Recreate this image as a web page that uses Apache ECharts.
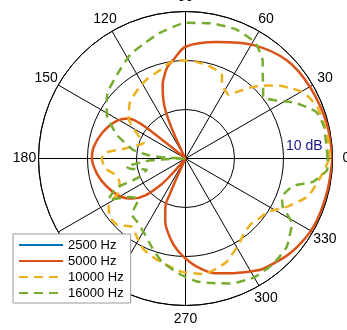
<!DOCTYPE html>
<html>
<head>
<meta charset="utf-8">
<script src="https://cdn.jsdelivr.net/npm/echarts@6/dist/echarts.min.js"></script>
<style>
  html, body { margin: 0; padding: 0; background: #ffffff; }
  #chart { width: 347px; height: 330px; }
</style>
</head>
<body>
<div id="chart"></div>
<script>
// Polar directivity plot: level in dB against angle in degrees.
const FONT = '"Liberation Sans", Arial, Helvetica, sans-serif';

const seriesNames = ['2500 Hz', '5000 Hz', '10000 Hz', '16000 Hz'];
const seriesColors = ['#0072BD', '#D95319', '#EDB120', '#77AC30'];

const angleTicks = [0, 30, 60, 90, 120, 150, 180, 210, 240, 270, 300, 330];
// ticks whose labels fall under the legend box
const angleTicksUnderLegend = [210, 240];
const radiusMin = -20;
const radiusMax = 10;
const radiusStep = 10;
const radiusTickLabel = '10 dB';

// 2500 Hz band: no samples drawn
const angles2500 = [];
const level2500 = [];

// 5000 Hz band
const angles5000 = [0, 14, 30, 44, 59, 75, 90, 97, 101, 104,
  107, 110, 112, 113.8, 115.3, 117, 118, 140, 141, 141.5,
  142.5, 145, 152, 163, 173, 180, 190, 198.5, 209, 217,
  222.6, 227.2, 228.8, 230, 244, 245.5, 246.3, 246.8, 250, 252.5,
  255.6, 260.7, 265, 270, 276, 284.5, 291, 301, 305, 318,
  332, 347, 360];
const level5000 = [10, 9.7, 9.3, 8.8, 7.0, 4.6, 2.8, 0.3, -0.9, -2.4,
  -4.1, -6.6, -8.6, -11.4, -15.1, -18.5, -20, -20, -15.8, -11.2,
  -8.0, -5.8, -3.9, -2.2, -1.1, -0.9, -1.7, -2.8, -4.4, -6.4,
  -8.9, -13, -15.9, -20, -20, -16, -12, -9.7, -7.9, -6.3,
  -4.9, -2.8, -1.2, 0.4, 2.2, 4.2, 5.1, 6.8, 7.5, 8.8,
  9.6, 9.7, 10];

// 10000 Hz band
const angles10000 = [0, 8, 15, 21, 26, 30, 34, 37.5, 41, 45,
  48, 51, 56, 60, 63.6, 66.4, 72, 78, 85, 90,
  95, 100, 105, 110, 116, 123, 130, 135, 142.6, 145,
  150, 156, 160, 166, 171, 176, 180, 187, 193, 198,
  205, 212, 218, 224.4, 231.8, 238, 245.1, 254.7, 267.7, 279.2,
  291, 301.5, 308, 315.7, 321, 327, 335, 343, 353, 360];
const level10000 = [9.4, 9.4, 9.1, 8.9, 8.2, 7.3, 5.7, 4.4, 2.7, 0.9,
  -0.6, -2.2, -4.3, -3.9, -3.3, -1.4, -0.8, -0.4, -0.1, 0,
  0.1, -0.3, -1.1, -1.6, -2.0, -2.7, -3.4, -3.9, -5.4, -5.8,
  -7.8, -9.9, -10.9, -9.4, -7.3, -3.5, -2.9, -3.5, -5.3, -5.7,
  -5.3, -1.5, -0.4, -0.6, -2.3, -1.2, 0.4, 1.5, 3.1, 3.9,
  2.8, 0.7, -0.6, -1.1, -0.6, 0, 3.1, 6.2, 8.0, 9.4];

// 16000 Hz band
const angles16000 = [0, 13, 19.7, 27, 33.7, 38.4, 42.2, 47.2, 51.9, 59,
  68.6, 78.6, 90, 102, 110, 118, 128.5, 139.4, 144, 151.6,
  161, 170.7, 175, 177.5, 178.5, 180, 182, 183, 184.5, 188,
  191, 196, 202, 203, 208, 215, 221, 226, 233, 240.4,
  249, 257, 267, 275.3, 282, 290.4, 300, 309.8, 319, 328.7,
  333.5, 338.2, 345.8, 349.7, 355.4, 360];
const level16000 = [9.0, 9.0, 8.3, 5.1, 1.5, 0.2, 1.4, 3.2, 5.5, 7.6,
  8.3, 8.1, 7.7, 6.1, 4.9, 4.0, 2.2, 0.9, -0.1, -1.8,
  -5.2, -9.2, -12.5, -16, -19.5, -20, -16, -13, -11.4, -7.8,
  -8.8, -11.8, -9.6, -4.7, -2.1, -6.3, -7.3, -4.2, -3.7, -2.7,
  -0.7, 1.6, 3.6, 5.2, 6.0, 7.2, 8.0, 8.0, 7.4, 5.4,
  2.2, 1.2, 2.7, 6.5, 9.0, 9.0];

const bands = [
  { angles: angles2500, levels: level2500, dashed: false, smooth: 0.3 },
  { angles: angles5000, levels: level5000, dashed: false, smooth: 0.3 },
  { angles: angles10000, levels: level10000, dashed: true, smooth: 0.15 },
  { angles: angles16000, levels: level16000, dashed: true, smooth: 0.15 }
];

function toPairs(angles, levels) {
  return angles.map((a, i) => [levels[i], a]);
}

const chart = echarts.init(document.getElementById('chart'), null, { renderer: 'canvas' });

const option = {
  animation: false,
  backgroundColor: '#ffffff',
  textStyle: { fontFamily: FONT },
  polar: { center: [185.5, 158.5], radius: 147 },
  angleAxis: {
    type: 'value',
    min: 0,
    max: 360,
    interval: 30,
    startAngle: 0,
    clockwise: false,
    axisLine: { show: true, lineStyle: { color: '#000000', width: 1 } },
    axisTick: { show: false },
    axisLabel: { show: false },
    splitLine: { show: true, lineStyle: { color: '#000000', width: 1 } }
  },
  radiusAxis: {
    type: 'value',
    min: radiusMin,
    max: radiusMax,
    interval: radiusStep,
    axisLine: { show: false },
    axisTick: { show: false },
    splitLine: { show: true, lineStyle: { color: '#000000', width: 1 } },
    axisLabel: {
      show: true,
      showMaxLabel: true,
      formatter: v => (v === radiusMax ? radiusTickLabel : ''),
      color: '#16168a',
      fontSize: 14,
      fontFamily: FONT,
      align: 'right',
      verticalAlign: 'middle',
      margin: 12,
      padding: [0, 10, 0, 0]
    }
  },
  legend: {
    z: 10,
    orient: 'vertical',
    left: 13,
    top: 234,
    itemWidth: 44,
    itemHeight: 14,
    itemGap: 2,
    padding: [4, 7, 3, 5],
    backgroundColor: '#ffffff',
    borderColor: '#999999',
    borderWidth: 1,
    borderRadius: 0,
    itemStyle: { opacity: 0, borderWidth: 0 },
    textStyle: { fontSize: 13, color: '#000000', fontFamily: FONT, lineHeight: 14 },
    data: seriesNames
  },
  series: bands.map((b, i) => ({
    name: seriesNames[i],
    type: 'line',
    coordinateSystem: 'polar',
    data: toPairs(b.angles, b.levels),
    symbol: 'none',
    showSymbol: false,
    smooth: b.smooth,
    clip: false,
    color: seriesColors[i],
    lineStyle: {
      color: seriesColors[i],
      width: 2.5,
      type: b.dashed ? [9, 6] : 'solid',
      cap: 'butt'
    }
  }))
};

chart.setOption(option);

// Angle tick labels sit just outside the outer ring, centred on each spoke.
const labelGap = 14;
const angleLabels = angleTicks
  .filter(a => angleTicksUnderLegend.indexOf(a) < 0)
  .map(a => {
    const outer = chart.convertToPixel({ seriesIndex: 1 }, [radiusMax, a]);
    const centre = chart.convertToPixel({ seriesIndex: 1 }, [radiusMin, a]);
    const dx = outer[0] - centre[0];
    const dy = outer[1] - centre[1];
    const len = Math.hypot(dx, dy) || 1;
    return {
      type: 'text',
      z: 0,
      silent: true,
      style: {
        text: String(a),
        x: outer[0] + dx / len * labelGap,
        y: outer[1] + dy / len * labelGap,
        align: 'center',
        verticalAlign: 'middle',
        font: '14px ' + FONT,
        fill: '#000000'
      }
    };
  });

chart.setOption({ graphic: { elements: angleLabels } });
</script>
</body>
</html>
